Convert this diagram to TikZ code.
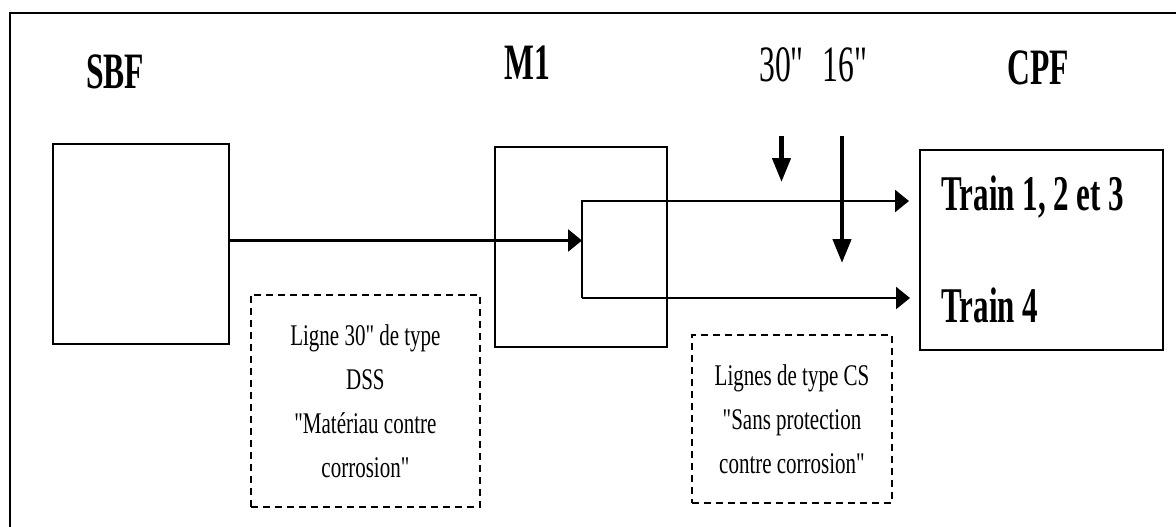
\documentclass[tikz,border=0pt]{standalone}
\usepackage{fontspec}
\setmainfont{Liberation Serif}
\newfontfamily\hdfont[FakeStretch=0.62]{Liberation Serif}
\newfontfamily\notefont[FakeStretch=0.7]{Liberation Serif}
\usetikzlibrary{arrows.meta, positioning}

\begin{document}
\begin{tikzpicture}[x=0.5pt, y=-0.5pt,
  unit/.style={draw, line width=1pt, inner sep=0pt},
  note/.style={draw, line width=0.9pt, dash pattern=on 3.5pt off 2.5pt,
               inner sep=0pt, align=center,
               font=\notefont\fontsize{15}{22}\selectfont},
  hdr/.style={font=\hdfont\bfseries\fontsize{25.5}{30}\selectfont,
              anchor=base, inner sep=0pt},
  dia/.style={font=\hdfont\fontsize{25.5}{30}\selectfont,
              anchor=base, inner sep=0pt},
  trn/.style={font=\hdfont\bfseries\fontsize{25}{30}\selectfont,
              anchor=base west, inner sep=0pt},
  flow/.style={line width=1.3pt, -{Triangle[length=7pt,width=11pt]}},
  feed/.style={line width=2.2pt, -{Triangle[length=12pt,width=9pt]}}
]
\useasboundingbox (0,0) rectangle (1176,526);
\clip (0,0) rectangle (1176,526);

% outer frame (cut off at right and bottom)
\draw[line width=1pt] (10,540) -- (10,13) -- (1190,13);

% units
\node[unit, minimum width=88pt, minimum height=100pt] (sbf) at (140.5,244) {};
\node[unit, minimum width=86pt, minimum height=100pt] (mone) at (580.5,246.5) {};
\node[unit, minimum width=121.5pt, minimum height=100pt] (cpf) at (1041.5,250) {};

% headers
\node[hdr] (sbflbl) at (115,88) {SBF};
\node[hdr] (monelbl) at (527,79) {M1};
\node[hdr] (cpflbl) at (1038,84) {CPF};
\node[dia] (d30) at (781.5,81) {30"};
\node[dia] (d16) at (845,81) {16"};

% trains
\node[trn] (tr123) at (941,210) {Train 1, 2 et 3};
\node[trn] (tr4) at (941,322) {Train 4};

% notes
\node[note, minimum width=114.6pt, minimum height=106pt] (note1) at (365.4,400.8)
  {Ligne 30" de type\\DSS\\"Matériau contre\\corrosion"};
\node[note, minimum width=100pt, minimum height=84pt] (note2) at (792,419)
  {Lignes de type CS\\"Sans protection\\contre corrosion"};

% flow lines
\coordinate (jin) at (582,240.5);
\coordinate (jtop) at (582,201);
\coordinate (jbot) at (582,298);
\draw[flow] (sbf.east |- jin) -- (jin);
\draw[flow] (jbot) -- (jtop) -- ([xshift=-5pt]cpf.west |- jtop);
\draw[flow] (jbot) -- ([xshift=-4.5pt]cpf.west |- jbot);

% line sizes
\coordinate (s30) at (781.5,136);
\coordinate (e30) at (781.5,182);
\coordinate (s16) at (842,136);
\coordinate (e16) at (842,263);
\draw[feed] (s30) -- (e30);
\draw[feed] (s16) -- (e16);
\end{tikzpicture}
\end{document}
